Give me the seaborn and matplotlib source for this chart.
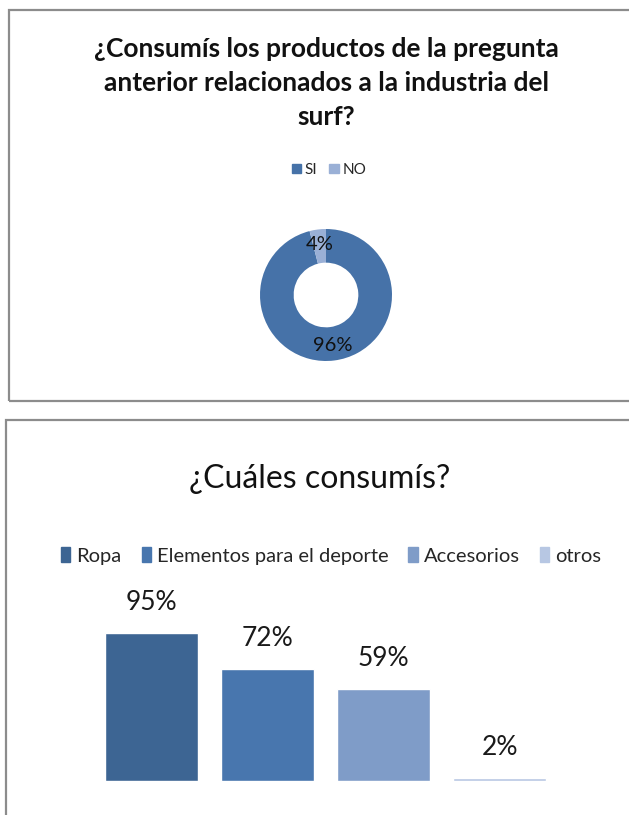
import matplotlib
matplotlib.use("Agg")
import matplotlib.pyplot as plt
from matplotlib import font_manager
from matplotlib.patches import Patch, Rectangle
import seaborn as sns

# data - top chart
donut_labels = ["SI", "NO"]
donut_values = [96, 4]
donut_colors = ["#4672A8", "#9AB0D6"]

# data - bottom chart
bar_labels = ["Ropa", "Elementos para el deporte", "Accesorios", "otros"]
bar_values = [95, 72, 59, 2]
bar_colors = ["#3D6593", "#4876AE", "#7F9CC8", "#B7C7E3"]

title_top = "¿Consumís los productos de la pregunta\nanterior relacionados a la industria del\nsurf?"
title_bottom = "¿Cuáles consumís?"


def pick_font(names):
    """Return the first installed family out of names."""
    for name in names:
        try:
            font_manager.findfont(name, fallback_to_default=False)
            return name
        except Exception:
            continue
    return "DejaVu Sans"


sns.set_theme(style="white")
font = pick_font(["Liberation Sans Narrow", "Lato", "Roboto"])
plt.rcParams["font.family"] = [font, "DejaVu Sans"]

W, H = 629, 815
fig = plt.figure(figsize=(W / 100, H / 100), dpi=100)
fig.patch.set_facecolor("white")


def fx(px):
    return px / W


def fy(py):
    return 1 - py / H


# panel borders
for (x0, y0, x1, y1) in [(9, 10, 640, 401), (6, 420, 640, 830)]:
    fig.patches.append(Rectangle((fx(x0), fy(y1)), fx(x1 - x0), (y1 - y0) / H,
                                 transform=fig.transFigure, fill=False,
                                 edgecolor="#8C8C8C", linewidth=1.6))

# ---- top: donut ----
fig.text(fx(326), fy(83), title_top, ha="center", va="center",
         fontsize=19, fontweight="bold", color="#111111", linespacing=1.5)

cx, cy, r = 326, 295, 66
ax1 = fig.add_axes([fx(cx - r), fy(cy + r), 2 * r / W, 2 * r / H])
wedges, texts, autotexts = ax1.pie(
    donut_values, colors=donut_colors, startangle=90, counterclock=False,
    autopct="%d%%", pctdistance=0.77,
    wedgeprops=dict(width=0.51, edgecolor="none"),
    textprops=dict(fontsize=14.5, color="#111111"))
ax1.set_xlim(-1, 1)
ax1.set_ylim(-1, 1)
ax1.set_aspect("auto")
ax1.axis("off")

fig.legend([Patch(color=c) for c in donut_colors], donut_labels,
           loc="center", bbox_to_anchor=(fx(329), fy(170)), ncol=2,
           frameon=False, fontsize=11, handlelength=0.6, handleheight=0.6,
           handletextpad=0.25, columnspacing=0.8)

# ---- bottom: bars ----
fig.text(fx(320), fy(479), title_bottom, ha="center", va="center",
         fontsize=23, color="#111111")

px_per_pct = 1.56
ymax = 120
ax2 = fig.add_axes([fx(93), fy(781), fx(465), ymax * px_per_pct / H])
sns.barplot(x=bar_labels, y=bar_values, hue=bar_labels, palette=bar_colors,
            width=0.8, legend=False, ax=ax2, saturation=1)
ax2.set_ylim(0, ymax)
for cont in ax2.containers:
    ax2.bar_label(cont, labels=[f"{v:.0f}%" for v in cont.datavalues],
                  padding=13, fontsize=19, color="#1a1a1a")
ax2.axis("off")

fig.legend([Patch(color=c) for c in bar_colors], bar_labels,
           loc="center", bbox_to_anchor=(fx(331), fy(556)), ncol=4,
           frameon=False, fontsize=14.5, handlelength=0.45, handleheight=0.75,
           handletextpad=0.3, columnspacing=1.0)

fig.savefig("out.png", dpi=100, facecolor="white")
